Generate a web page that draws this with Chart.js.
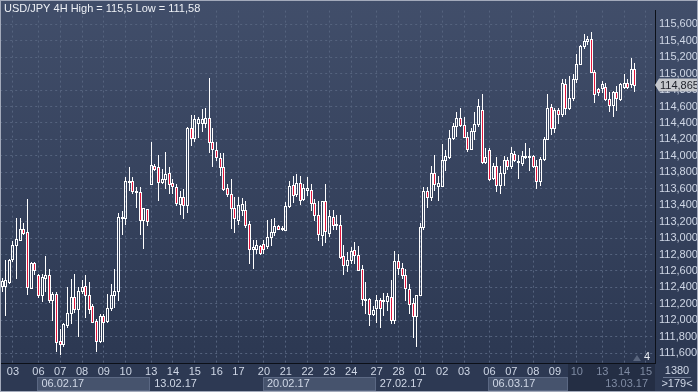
<!DOCTYPE html>
<html>
<head>
<meta charset="utf-8">
<script src="https://cdn.jsdelivr.net/npm/chart.js@4.4.1/dist/chart.umd.min.js"></script>
<style>
  html, body { margin: 0; padding: 0; background: #2c3852; }
  canvas { display: block; }
</style>
</head>
<body>
<canvas id="usdjpy" width="698" height="392"></canvas>
<script>
// USD/JPY 4H candles
const opens = [
  112.421,112.421,112.469,112.743,112.921,112.981,113.112,113.076,112.398,112.695,
  112.552,112.314,112.517,112.552,112.243,112.326,111.743,111.707,111.945,112.088,
  112.279,112.136,112.362,112.421,112.302,112.172,111.993,111.743,112.053,111.993,
  112.148,112.314,112.362,113.243,113.243,113.683,113.695,113.564,113.564,113.219,
  113.350,113.659,113.874,113.862,113.683,113.719,113.790,113.671,113.624,113.409,
  113.505,113.398,114.338,114.219,114.397,114.397,114.397,114.457,114.171,114.076,
  113.969,113.862,113.612,113.540,113.362,113.219,113.338,113.338,113.171,112.862,
  112.862,112.910,112.933,112.898,113.017,113.076,113.148,113.112,113.100,113.386,
  113.647,113.540,113.671,113.481,113.588,113.588,113.421,113.279,113.040,113.457,
  113.064,113.255,113.160,113.160,112.779,112.671,112.731,112.850,112.790,112.624,
  112.255,112.255,112.076,112.148,112.243,112.243,112.231,112.279,112.005,112.719,
  112.636,112.552,112.386,112.207,112.053,112.314,113.136,113.576,113.505,113.790,
  113.636,113.636,113.945,113.992,114.219,114.362,114.457,114.374,114.231,114.088,
  114.302,114.385,114.552,113.921,114.076,113.731,113.874,113.647,113.790,113.945,
  113.874,114.028,113.933,113.909,113.992,113.992,114.004,113.874,113.695,113.957,
  114.207,114.600,114.338,114.564,114.505,114.874,114.588,114.707,114.933,115.112,
  115.338,115.397,115.421,115.016,114.814,114.826,114.838,114.695,114.624,114.778,
  114.695,114.838,114.885,114.874,115.052
];
const highs = [
  112.517,112.731,112.743,112.969,113.243,113.243,113.183,113.481,112.707,112.707,
  112.564,112.564,112.779,112.624,112.350,112.350,111.898,111.969,112.410,112.505,
  112.564,112.410,112.493,112.552,112.469,112.195,112.017,112.076,112.076,112.326,
  112.445,112.624,113.302,113.326,113.743,113.862,113.743,113.624,113.624,113.362,
  113.350,114.171,113.897,114.016,113.838,114.052,113.862,113.719,113.659,113.576,
  113.600,114.350,114.493,114.493,114.469,114.576,114.588,114.945,114.338,114.171,
  114.040,114.040,113.659,113.719,113.505,113.505,113.493,113.457,113.207,112.981,
  112.981,112.921,112.981,113.219,113.231,113.243,113.160,113.148,113.445,113.695,
  113.755,113.778,113.755,113.659,113.743,113.659,113.481,113.457,113.457,113.659,
  113.338,113.338,113.279,113.279,112.921,112.826,112.886,112.957,112.910,112.671,
  112.469,112.267,112.172,112.314,112.267,112.338,112.338,112.493,112.838,112.802,
  112.695,112.624,112.445,112.267,112.314,113.183,113.624,113.624,113.874,114.016,
  113.755,114.147,114.076,114.314,114.397,114.528,114.588,114.469,114.290,114.338,
  114.528,114.695,114.755,114.100,114.100,113.909,113.992,113.874,114.004,113.992,
  114.112,114.064,114.016,114.064,114.159,114.100,114.016,113.945,113.981,114.231,
  114.755,114.635,114.588,114.588,114.933,114.933,114.969,114.993,115.243,115.350,
  115.481,115.457,115.504,115.040,114.826,114.909,114.885,114.778,114.790,114.850,
  114.885,114.993,114.933,115.195,115.135
];
const lows = [
  112.350,112.053,112.445,112.707,112.505,112.981,113.040,112.314,112.386,112.552,
  112.267,112.219,112.350,112.207,111.993,111.612,111.576,111.671,111.910,111.957,
  112.088,111.802,112.326,112.029,112.076,111.969,111.612,111.719,111.731,111.969,
  112.112,112.148,112.231,113.040,113.160,113.576,113.540,113.362,113.040,112.862,
  113.148,113.647,113.814,113.457,113.659,113.600,113.540,113.540,113.386,113.279,
  113.231,113.302,114.124,114.171,114.219,114.290,114.338,114.040,113.862,113.933,
  113.755,113.576,113.505,113.112,113.064,113.160,113.267,113.124,112.683,112.624,
  112.802,112.790,112.802,112.862,112.910,113.029,113.100,113.088,113.100,113.362,
  113.421,113.505,113.398,113.457,113.517,113.326,113.207,112.969,112.910,112.945,
  113.017,113.100,113.100,112.743,112.552,112.588,112.683,112.683,112.600,112.172,
  112.076,111.933,112.053,111.969,111.910,112.053,112.112,111.957,111.957,112.552,
  112.505,112.231,112.076,111.779,111.671,112.291,113.100,113.362,113.457,113.576,
  113.457,113.624,113.814,113.957,114.195,114.231,114.350,114.219,114.052,114.076,
  114.195,114.350,113.897,113.897,113.695,113.707,113.564,113.540,113.636,113.826,
  113.838,113.921,113.719,113.874,113.957,113.814,113.850,113.600,113.636,113.933,
  114.195,114.255,114.278,114.385,114.469,114.493,114.564,114.671,114.885,115.100,
  115.302,115.350,115.004,114.647,114.731,114.767,114.671,114.528,114.469,114.540,
  114.671,114.814,114.814,114.826,114.778
];
const closes = [
  112.481,112.493,112.731,112.921,112.993,113.112,113.064,112.410,112.695,112.612,
  112.314,112.529,112.552,112.243,112.326,111.731,111.707,111.957,112.088,112.279,
  112.136,112.362,112.410,112.302,112.136,111.981,111.743,112.053,111.981,112.148,
  112.314,112.362,113.255,113.255,113.695,113.695,113.576,113.576,113.219,113.362,
  113.207,113.885,113.838,113.683,113.719,113.778,113.659,113.636,113.421,113.505,
  113.398,114.338,114.219,114.445,114.445,114.445,114.457,114.171,114.088,113.981,
  113.862,113.600,113.540,113.362,113.243,113.398,113.409,113.160,112.862,112.886,
  112.921,112.814,112.862,113.017,113.076,113.148,113.112,113.118,113.386,113.636,
  113.528,113.671,113.469,113.612,113.612,113.421,113.279,113.052,113.457,113.088,
  113.267,113.160,113.166,112.767,112.671,112.731,112.838,112.790,112.612,112.255,
  112.261,112.076,112.124,112.243,112.148,112.249,112.291,112.005,112.719,112.636,
  112.552,112.398,112.195,112.053,112.302,113.136,113.576,113.505,113.790,113.659,
  113.671,113.945,114.004,114.219,114.362,114.457,114.374,114.231,114.088,114.302,
  114.385,114.612,113.921,113.992,113.719,113.874,113.647,113.790,113.945,113.874,
  114.040,113.945,113.939,114.004,114.004,114.004,113.874,113.695,113.957,114.207,
  114.588,114.338,114.564,114.505,114.885,114.588,114.707,114.933,115.112,115.338,
  115.397,115.421,115.016,114.755,114.778,114.874,114.695,114.624,114.778,114.707,
  114.874,114.885,114.838,115.052,114.865
];

const slotCount = 180;   // bar slots on the time axis (last few are empty)
const dayIdx  = [3,10,16,22,28,34,41,47,53,59,65,72,78,84,90,96,103,109,115,121,127,134,140,146,152,158,165,171,177];
const dayText = ['03','06','07','08','09','10','13','14','15','16','17','20','21','22','23','24','27','28','01','02','03','06','07','08','09','10','13','14','15'];
const weekIdx  = [10,41,72,103,134,165];
const weekText = ['06.02.17','13.02.17','20.02.17','27.02.17','06.03.17','13.03.17'];
const priceTicks = [111.6,111.8,112.0,112.2,112.4,112.6,112.8,113.0,113.2,113.4,113.6,113.8,114.0,114.2,114.4,114.6,114.8,115.0,115.2,115.4,115.6];
const title = 'USD/JPY 4H High = 115,5 Low = 111,58';
const lastPrice = 114.865;

const FONT = "'Liberation Sans Narrow', 'Arial Narrow', 'Liberation Sans', Arial, sans-serif";
const RED = '#e3163c';
const GRID = '#55637e';
const TEXT = '#cfd7e6';

const slots = Array.from({ length: slotCount }, (_, i) => i);
const bodies = opens.map((o, i) => [o, closes[i]]);
const upperWick = highs.map((h, i) => [Math.max(opens[i], closes[i]), h]);
const lowerWick = lows.map((l, i) => [l, Math.min(opens[i], closes[i])]);
const fmt = v => v.toFixed(3).replace('.', ',');

// draw the bar elements Chart.js laid out, snapped to whole pixels so the
// 1px outlines and wicks stay crisp
const crisp = {
  id: 'crisp',
  beforeDatasetsDraw(chart) {
    const c = chart.ctx, a = chart.chartArea;
    c.save();
    c.beginPath();
    c.rect(a.left, a.top, a.right - a.left, a.bottom - a.top);
    c.clip();
    c.fillStyle = '#ffffff';
    [1, 2].forEach(d => {
      chart.getDatasetMeta(d).data.forEach(el => {
        const top = Math.round(Math.min(el.y, el.base));
        const bot = Math.round(Math.max(el.y, el.base));
        if (bot > top) c.fillRect(Math.round(el.x - 0.5), top, 1, bot - top);
      });
    });
    chart.getDatasetMeta(0).data.forEach((el, i) => {
      const left = Math.round(el.x - 1.5);
      const top = Math.round(Math.min(el.y, el.base));
      const bot = Math.max(Math.round(Math.max(el.y, el.base)), top + 1);
      const h = bot - top + 1;
      c.fillStyle = '#ffffff';
      c.fillRect(left, top, 3, 1);
      c.fillRect(left, bot, 3, 1);
      c.fillRect(left, top, 1, h);
      c.fillRect(left + 2, top, 1, h);
      if (closes[i] < opens[i] && h > 2) {
        c.fillStyle = RED;
        c.fillRect(left + 1, top + 1, 1, h - 2);
      }
    });
    c.restore();
    return false;
  }
};

const chrome = {
  id: 'chrome',
  beforeDraw(chart) {
    const c = chart.ctx, a = chart.chartArea, x = chart.scales.x;
    const W = chart.width, H = chart.height;
    c.save();
    const g = c.createLinearGradient(0, 0, 0, a.bottom);
    g.addColorStop(0, '#414e6a');
    g.addColorStop(1, '#2c3852');
    c.fillStyle = g;
    c.fillRect(0, 0, W, a.bottom);
    c.fillStyle = '#2d3953';
    c.fillRect(0, a.bottom, W, H - a.bottom);
    // week boxes in the lower row
    const step = x.getPixelForValue(1) - x.getPixelForValue(0);
    const dimStart = x.getPixelForValue(155) + step / 2;
    for (let k = 0; k < weekIdx.length; k += 2) {
      const x0 = Math.round(x.getPixelForValue(weekIdx[k]) - 1);
      let x1 = k + 1 < weekIdx.length ? x.getPixelForValue(weekIdx[k + 1]) - 1 : a.right;
      x1 = Math.round(Math.min(x1, dimStart));
      c.fillStyle = '#46536d';
      c.fillRect(x0, a.bottom + 14, x1 - x0, 14);
      c.strokeStyle = '#5b6883';
      c.lineWidth = 1;
      c.strokeRect(x0 + 0.5, a.bottom + 14.5, x1 - x0 - 1, 13);
    }
    c.fillStyle = '#242e44';
    c.fillRect(Math.round(dimStart), a.bottom + 1, a.right - Math.round(dimStart), H - a.bottom - 1);
    c.font = '11px ' + FONT;
    c.textBaseline = 'middle';
    c.textAlign = 'left';
    weekText.forEach((t, k) => {
      const px = x.getPixelForValue(weekIdx[k]);
      c.fillStyle = px > dimStart ? '#7f8ba3' : TEXT;
      c.fillText(t, px + 3, a.bottom + 21);
    });
    c.restore();
  },
  afterDraw(chart) {
    const c = chart.ctx, a = chart.chartArea, y = chart.scales.y;
    const W = chart.width, H = chart.height;
    c.save();
    c.font = '11px ' + FONT;
    c.textBaseline = 'middle';
    c.textAlign = 'left';
    c.fillStyle = '#eef1f6';
    c.fillText(title, 4, 9);
    // last price tag
    const py = Math.round(y.getPixelForValue(lastPrice));
    c.fillStyle = '#c5c8cd';
    c.beginPath();
    c.moveTo(a.right, py);
    c.lineTo(a.right + 4, py - 6.5);
    c.lineTo(W, py - 6.5);
    c.lineTo(W, py + 6.5);
    c.lineTo(a.right + 4, py + 6.5);
    c.closePath();
    c.fill();
    c.fillStyle = '#1d2029';
    c.fillText(fmt(lastPrice), a.right + 5, py + 0.5);
    // small marker at the bottom right of the plot
    c.fillStyle = '#59657d';
    c.beginPath();
    c.moveTo(a.right - 22, a.bottom - 2);
    c.lineTo(a.right - 18, a.bottom - 8);
    c.lineTo(a.right - 14, a.bottom - 2);
    c.fill();
    c.fillStyle = '#e8ecf3';
    c.fillText('4', a.right - 11, a.bottom - 6);
    // bar counters under the price axis
    c.textAlign = 'center';
    c.fillStyle = TEXT;
    c.fillText('1380', a.right + 22, a.bottom + 8);
    c.fillText('>179<', a.right + 22, a.bottom + 21);
    c.fillStyle = '#6b7790';
    c.fillRect(a.right + 8, a.bottom + 14, 28, 1);
    // frame
    c.strokeStyle = '#a3aabb';
    c.lineWidth = 2;
    c.strokeRect(0, 0, W, H);
    c.restore();
  }
};

new Chart(document.getElementById('usdjpy'), {
  type: 'bar',
  data: {
    labels: slots,
    datasets: [
      {
        label: 'body',
        data: bodies,
        barThickness: 3,
        borderWidth: 1,
        borderColor: '#ffffff',
        borderSkipped: false,
        backgroundColor: ctx => closes[ctx.dataIndex] < opens[ctx.dataIndex] ? RED : 'rgba(0,0,0,0)',
        grouped: false
      },
      {
        label: 'upper wick',
        data: upperWick,
        barThickness: 1,
        borderWidth: 0,
        backgroundColor: '#ffffff',
        grouped: false
      },
      {
        label: 'lower wick',
        data: lowerWick,
        barThickness: 1,
        borderWidth: 0,
        backgroundColor: '#ffffff',
        grouped: false
      }
    ]
  },
  options: {
    responsive: false,
    animation: false,
    devicePixelRatio: 1,
    layout: { padding: { top: 3, left: 0, right: 0, bottom: 0 } },
    plugins: { legend: { display: false }, tooltip: { enabled: false } },
    scales: {
      x: {
        type: 'category',
        offset: true,
        grid: {
          offset: false,
          drawTicks: false,
          color: ctx => dayIdx.includes(ctx.index) ? GRID : 'rgba(0,0,0,0)'
        },
        border: { display: true, color: '#0c1018', width: 1, dash: [2, 3] },
        ticks: {
          autoSkip: false,
          maxRotation: 0,
          minRotation: 0,
          padding: 2,
          font: { size: 11, family: FONT },
          color: ctx => ctx.index >= 158 ? '#7f8ba3' : TEXT,
          callback: (v, i) => {
            const k = dayIdx.indexOf(i);
            return k < 0 ? '' : dayText[k];
          }
        },
        afterFit: s => { s.height = 29; }
      },
      y: {
        position: 'right',
        min: 111.481,
        max: 115.767,
        grid: { drawTicks: false, color: GRID },
        border: { display: true, color: '#0c1018', width: 1, dash: [2, 3] },
        ticks: {
          padding: 4,
          font: { size: 11, family: FONT },
          color: TEXT,
          callback: v => fmt(v)
        },
        afterBuildTicks: s => { s.ticks = priceTicks.map(v => ({ value: v })); },
        afterFit: s => { s.width = 43; }
      }
    }
  },
  plugins: [crisp, chrome]
});
</script>
</body>
</html>
